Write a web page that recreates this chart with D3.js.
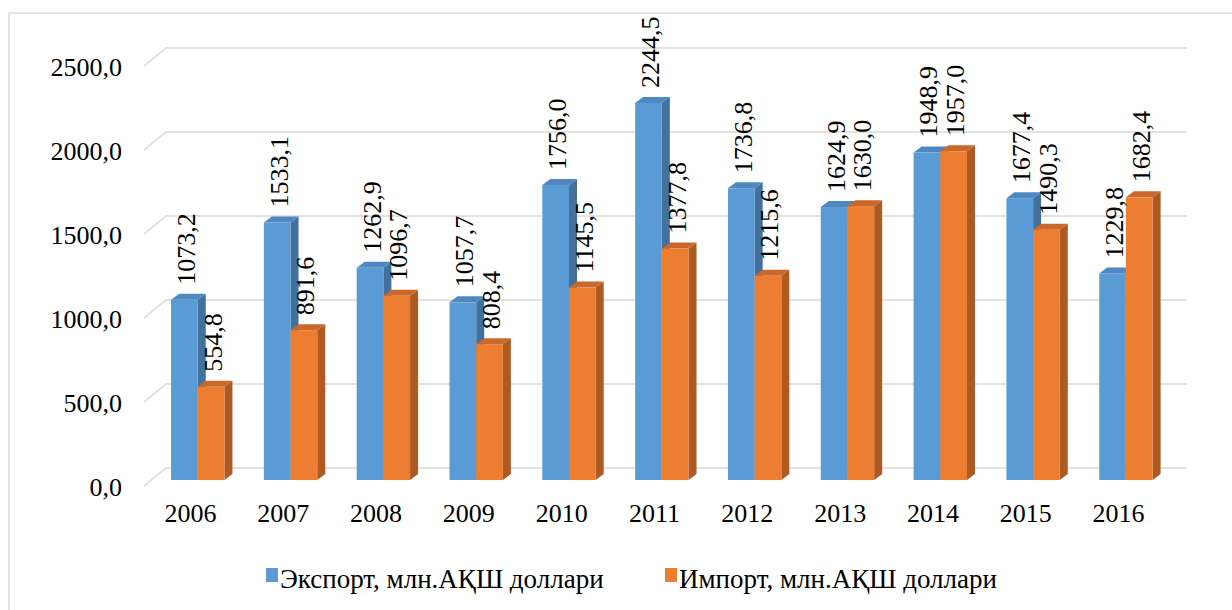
<!doctype html>
<html lang="ru">
  <head>
    <meta charset="utf-8">
    <title>Экспорт / Импорт</title>
    <style>
      body { margin: 0; background: #fff; }
      svg text { font-family: "Liberation Serif", "Times New Roman", serif !important; }
    </style>
  </head>
  <body>
    <script src="https://d3js.org/d3.v7.min.js"></script>
    <script>
      // data
      var years = ['2006', '2007', '2008', '2009', '2010', '2011', '2012', '2013', '2014', '2015', '2016'];
      var exportVals = [1073.2, 1533.1, 1262.9, 1057.7, 1756.0, 2244.5, 1736.8, 1624.9, 1948.9, 1677.4, 1229.8];
      var importVals = [554.8, 891.6, 1096.7, 808.4, 1145.5, 1377.8, 1215.6, 1630.0, 1957.0, 1490.3, 1682.4];
      var seriesNames = ['Экспорт, млн.АҚШ доллари', 'Импорт, млн.АҚШ доллари'];
      var yTicks = [0, 500, 1000, 1500, 2000, 2500];

      var W = 1232, H = 610;
      var depth = { dx: 22, dy: -18 };   // depth of the back wall
      var colors = [
        { front: '#5b9bd5', top: '#4f88c0', side: '#41719c' },
        { front: '#ed7d31', top: '#c9682a', side: '#ae5a21' }
      ];

      var svg = d3.select('body').append('svg')
          .attr('width', W)
          .attr('height', H);

      // frame
      svg.append('rect')
          .attr('x', 9).attr('y', 13)
          .attr('width', 1300).attr('height', 700)
          .attr('fill', 'none')
          .attr('stroke', '#d9d9d9')
          .attr('stroke-width', 1.5);

      var x = d3.scaleBand()
          .domain(years)
          .range([144, 1165])
          .paddingInner(0.425)
          .paddingOuter(0.2125);

      var xs = d3.scaleBand()
          .domain([0, 1])
          .range([0, x.bandwidth()]);

      var y = d3.scaleLinear()
          .domain([0, 2500])
          .range([486, 66]);

      // grid: diagonal on the side wall + line on the back wall
      var grid = svg.append('g');
      yTicks.forEach(function(t) {
        grid.append('path')
            .attr('d', 'M' + x.range()[0] + ',' + y(t) +
                       'L' + (x.range()[0] + depth.dx) + ',' + (y(t) + depth.dy) +
                       'L' + (x.range()[1] + depth.dx) + ',' + (y(t) + depth.dy))
            .attr('fill', 'none')
            .attr('stroke', '#d9d9d9')
            .attr('stroke-width', 1.5);
      });

      // y axis labels
      var fmt = function(d) { return d3.format('.1f')(d).replace('.', ','); };
      var yAxis = svg.append('g')
          .attr('transform', 'translate(' + x.range()[0] + ',0)')
          .call(d3.axisLeft(y).tickValues(yTicks).tickFormat(fmt).tickSize(0).tickPadding(22));
      yAxis.select('.domain').remove();
      yAxis.attr('font-size', 26);
      yAxis.selectAll('text').attr('fill', '#000').attr('dy', '0.36em');

      // x axis labels
      var xAxis = svg.append('g')
          .attr('transform', 'translate(0,' + y(0) + ')')
          .call(d3.axisBottom(x).tickSize(0).tickPadding(18));
      xAxis.select('.domain').remove();
      xAxis.attr('font-size', 26);
      xAxis.selectAll('text').attr('fill', '#000');

      // bars sit a third of the way into the depth
      var off = { dx: depth.dx / 3, dy: depth.dy / 3 };
      var bd = { dx: 8, dy: -6 };   // bar depth

      var rows = [];
      years.forEach(function(yr, i) {
        rows.push({ year: yr, s: 0, v: exportVals[i] });
        rows.push({ year: yr, s: 1, v: importVals[i] });
      });

      var bars = svg.append('g').selectAll('g')
          .data(rows)
          .enter().append('g');

      bars.each(function(d) {
        var g = d3.select(this);
        var x0 = x(d.year) + xs(d.s) + off.dx;
        var x1 = x0 + xs.bandwidth();
        var yb = y(0) + off.dy;
        var yt = y(d.v) + off.dy;
        var c = colors[d.s];
        g.append('path')
            .attr('d', 'M' + x1 + ',' + yb + 'L' + (x1 + bd.dx) + ',' + (yb + bd.dy) +
                       'L' + (x1 + bd.dx) + ',' + (yt + bd.dy) + 'L' + x1 + ',' + yt + 'Z')
            .attr('fill', c.side);
        g.append('path')
            .attr('d', 'M' + x0 + ',' + yt + 'L' + (x0 + bd.dx) + ',' + (yt + bd.dy) +
                       'L' + (x1 + bd.dx) + ',' + (yt + bd.dy) + 'L' + x1 + ',' + yt + 'Z')
            .attr('fill', c.top);
        g.append('rect')
            .attr('x', x0).attr('y', yt)
            .attr('width', xs.bandwidth()).attr('height', yb - yt)
            .attr('fill', c.front);
      });

      // data labels, rotated
      svg.append('g').selectAll('text')
          .data(rows)
          .enter().append('text')
          .attr('font-size', 26)
          .attr('dominant-baseline', 'central')
          .attr('transform', function(d) {
            var cx = x(d.year) + xs(d.s) + off.dx + xs.bandwidth() / 2 + 2;
            var cy = y(d.v) + off.dy - 15;
            return 'translate(' + cx + ',' + cy + ') rotate(-90)';
          })
          .text(function(d) { return fmt(d.v); });

      // legend
      var legend = svg.append('g');
      var legX = [266, 665];
      seriesNames.forEach(function(name, i) {
        legend.append('rect')
            .attr('x', legX[i]).attr('y', 568)
            .attr('width', 12).attr('height', 14)
            .attr('fill', colors[i].front);
        legend.append('text')
            .attr('x', legX[i] + 14).attr('y', 588)
            .attr('font-size', 27)
            .text(name);
      });
    </script>
  </body>
</html>
